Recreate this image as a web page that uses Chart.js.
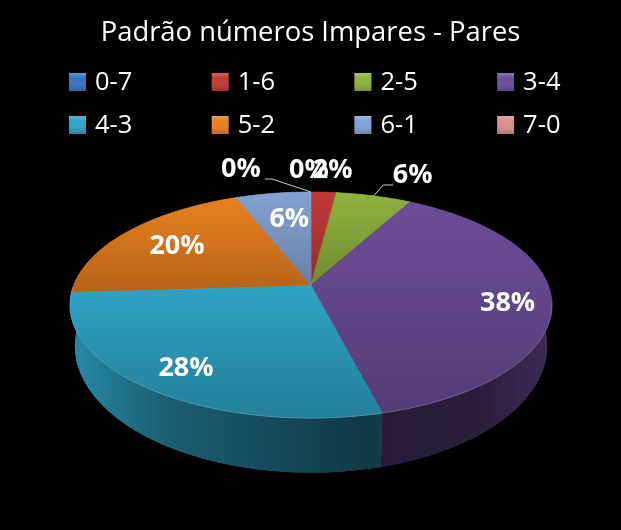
<!DOCTYPE html>
<html>
<head>
<meta charset="utf-8">
<title>Padrão números Impares - Pares</title>
<script src="https://cdn.jsdelivr.net/npm/chart.js@4/dist/chart.umd.min.js"></script>
<style>
  html, body { margin: 0; padding: 0; background: #000; }
  canvas { display: block; }
</style>
</head>
<body>
<canvas id="myChart" width="621" height="530"></canvas>
<script>
const titulo = "Padrão números Impares - Pares";
const categorias = ["0-7", "1-6", "2-5", "3-4", "4-3", "5-2", "6-1", "7-0"];
const valores = [0, 2, 6, 38, 28, 20, 6, 0];
const cores = ["#3b74b8", "#bf3a37", "#8fb23e", "#6c4d98", "#2ea3c4", "#e8801f", "#84a3d3", "#d98f8f"];

// raio relativo e ajuste de cada rotulo (px)
const rotuloRaio = [1.3, 1.3, 1.25, 0.82, 0.8, 0.72, 0.7, 1.3];
const rotuloAjuste = [[-2, 1], [6, 1], [26, -2], [0, 7], [1, 3], [1, 1], [6, 1], [-70, 0]];
// linhas de chamada: indice da fatia -> cotovelo e fim junto ao rotulo
const chamadas = { 2: [[383, 185], [393, 185]], 7: [[272, 179], [265, 179]] };

// perspectiva do disco
const vista = { cx: 311, cy: 285, rx: 237.2, ry: 109.5, k: 0.177, meioY: 305, baseY: 346, escalaX: 0.98, escalaY: 1.12 };

/* projeta um ponto do circulo (angulo em radianos, raio relativo) */
function projeta(ang, r = 1) {
      const u = r * Math.cos(ang), v = r * Math.sin(ang);
      const d = 1 - vista.k * v;
      return [vista.cx + vista.rx * u / d, vista.cy + vista.ry * v / d];
}

/* ponto correspondente na aresta de baixo */
function base(p) {
      return [vista.cx + (p[0] - vista.cx) * vista.escalaX, vista.baseY + (p[1] - vista.meioY) * vista.escalaY];
}

function pontosArco(a1, a2) {
      const n = Math.max(2, Math.ceil(Math.abs(a2 - a1) / 0.01));
      const pts = [];
      for (let i = 0; i <= n; i++) pts.push(projeta(a1 + (a2 - a1) * i / n));
      return pts;
}

function caminho(ctx, pts) {
      ctx.beginPath();
      pts.forEach((p, i) => i ? ctx.lineTo(p[0], p[1]) : ctx.moveTo(p[0], p[1]));
      ctx.closePath();
}

const disco3d = {
      id: "disco3d",
      beforeDatasetDraw(chart, args) {
            const ctx = chart.ctx;
            const fatias = args.meta.data.map((el, i) => ({ a1: el.startAngle, a2: el.endAngle, cor: chart.data.datasets[0].backgroundColor[i] }))
                  .filter(f => f.a2 > f.a1);

            ctx.save();
            // lados, de tras para a frente
            const sombra = ctx.createLinearGradient(70, 0, 552, 0);
            sombra.addColorStop(0, "rgba(0,0,0,0.15)");
            sombra.addColorStop(0.2, "rgba(0,0,0,0.42)");
            sombra.addColorStop(0.6, "rgba(0,0,0,0.64)");
            sombra.addColorStop(0.85, "rgba(0,0,0,0.62)");
            sombra.addColorStop(1, "rgba(0,0,0,0.42)");
            const porTras = [...fatias].sort((f, g) => Math.sin((f.a1 + f.a2) / 2) - Math.sin((g.a1 + g.a2) / 2));
            porTras.forEach(f => {
                  const topo = pontosArco(f.a1, f.a2);
                  const poli = topo.concat(topo.map(base).reverse());
                  caminho(ctx, poli);
                  ctx.fillStyle = f.cor;
                  ctx.fill();
                  ctx.fillStyle = sombra;
                  ctx.fill();
            });

            // tampo: cada fatia escurece de cima para baixo
            fatias.forEach(f => {
                  const pts = [[vista.cx, vista.cy]].concat(pontosArco(f.a1, f.a2));
                  const ys = pts.map(p => p[1]);
                  const luz = ctx.createLinearGradient(0, Math.min(...ys), 0, Math.max(...ys));
                  luz.addColorStop(0, "rgba(0,0,0,0)");
                  luz.addColorStop(1, "rgba(0,0,0,0.22)");
                  caminho(ctx, pts);
                  ctx.fillStyle = f.cor;
                  ctx.strokeStyle = f.cor;
                  ctx.lineWidth = 0.6;
                  ctx.fill();
                  ctx.stroke();
                  ctx.fillStyle = luz;
                  ctx.fill();
            });

            // brilho na borda da frente
            ctx.beginPath();
            pontosArco(0.15, Math.PI - 0.02).forEach((p, i) => i ? ctx.lineTo(p[0], p[1]) : ctx.moveTo(p[0], p[1]));
            ctx.strokeStyle = "rgba(255,255,255,0.18)";
            ctx.lineWidth = 1;
            ctx.stroke();
            ctx.restore();
            return false;
      },
      afterDatasetsDraw(chart) {
            const ctx = chart.ctx;
            const meta = chart.getDatasetMeta(0);
            const total = valores.reduce((a, b) => a + b, 0);

            ctx.save();
            // linhas de chamada
            Object.keys(chamadas).forEach(i => {
                  const el = meta.data[i];
                  const inicio = projeta((el.startAngle + el.endAngle) / 2);
                  ctx.beginPath();
                  ctx.moveTo(inicio[0], inicio[1]);
                  chamadas[i].forEach(p => ctx.lineTo(p[0], p[1]));
                  ctx.strokeStyle = "#c8c8c8";
                  ctx.lineWidth = 1;
                  ctx.stroke();
            });

            // rotulos em %
            ctx.font = "bold 27px 'Open Sans'";
            ctx.fillStyle = "#fff";
            ctx.textAlign = "center";
            ctx.textBaseline = "middle";
            meta.data.forEach((el, i) => {
                  const p = projeta((el.startAngle + el.endAngle) / 2, rotuloRaio[i]);
                  const texto = Math.round(valores[i] / total * 100) + "%";
                  ctx.fillText(texto, p[0] + rotuloAjuste[i][0], p[1] + rotuloAjuste[i][1]);
            });

            // legenda em 4 colunas
            ctx.font = "25.5px 'Open Sans'";
            ctx.textAlign = "left";
            categorias.forEach((nome, i) => {
                  const x = 69 + (i % 4) * 142.7;
                  const y = 82 + Math.floor(i / 4) * 43;
                  const g = ctx.createLinearGradient(0, y - 9, 0, y + 9);
                  g.addColorStop(0, "rgba(255,255,255,0.22)");
                  g.addColorStop(0.3, "rgba(255,255,255,0)");
                  g.addColorStop(1, "rgba(0,0,0,0.18)");
                  ctx.fillStyle = cores[i];
                  ctx.fillRect(x, y - 9, 17, 18);
                  ctx.fillStyle = g;
                  ctx.fillRect(x, y - 9, 17, 18);
                  ctx.fillStyle = "#fff";
                  ctx.fillText(nome, x + 26, y + 1);
            });
            ctx.restore();
      }
};

const chart = new Chart(document.getElementById("myChart"), {
      type: "pie",
      data: {
            labels: categorias,
            datasets: [{ data: valores, backgroundColor: cores, borderWidth: 0 }]
      },
      options: {
            responsive: false,
            animation: false,
            plugins: {
                  legend: { display: false },
                  tooltip: { enabled: false },
                  title: {
                        display: true,
                        text: titulo,
                        color: "#fff",
                        font: { family: "Open Sans", size: 27.4, weight: "normal" },
                        padding: { top: 17, bottom: 10 }
                  }
            }
      },
      plugins: [disco3d, {
            id: "fundo",
            beforeDraw(c) { c.ctx.fillStyle = "#000"; c.ctx.fillRect(0, 0, c.width, c.height); }
      }]
});
</script>
</body>
</html>
